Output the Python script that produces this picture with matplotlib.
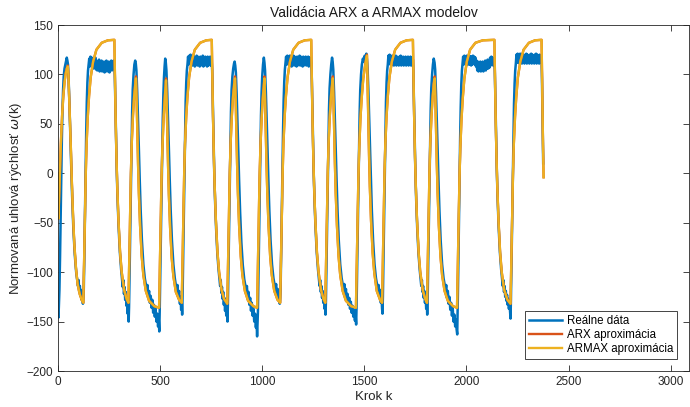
import matplotlib
matplotlib.use("Agg")
import matplotlib.pyplot as plt

k_real = [
    0, 2, 4, 7, 10, 13, 16, 19, 22, 25, 28, 32, 36, 40, 43, 46,
    49, 52, 56, 60, 64, 69, 75, 82, 89, 94, 98, 101, 104, 107, 110, 113, 116, 119, 122, 124,
    126, 129, 132, 135, 138, 141, 144, 147, 150,
    153, 156, 159, 162, 165, 168, 171, 174, 177, 180, 183, 186, 189, 192, 195, 198, 201, 204, 207, 210,
    213, 216, 219, 222, 225, 228, 231, 234, 237, 240, 243, 246, 249, 252, 255, 258, 261, 264, 267, 270, 273, 276,
    278, 281, 284, 288, 292, 297, 303, 309, 314, 317, 320, 323, 326, 329, 332, 335, 338, 341, 344, 346,
    348, 351, 354, 357, 360, 363, 366, 370, 374, 378, 381,
    384, 388, 392, 396, 400, 405, 411, 418, 425, 430, 434, 438, 442, 446, 450, 454, 458, 462, 466, 470,
    474, 478, 482, 486, 490, 493, 496,
    498, 501, 504, 507, 510, 513, 516, 519, 522, 525, 528,
    531, 535, 539, 543, 547, 552, 558, 565, 572, 577, 581, 585, 589, 593, 597, 600, 603, 606, 608,
    610, 613, 616, 619, 622, 625, 628, 631, 634,
    637, 640, 643, 646, 649, 652, 655, 658, 661, 664, 667, 670, 673, 676, 679, 682, 685, 688, 691, 694,
    697, 700, 703, 706, 709, 712, 715, 718, 721, 724, 727, 730, 733, 736, 739, 742, 745, 748, 751, 753,
    755, 758, 761, 765, 769, 774, 780, 786, 791, 794, 797, 800, 803, 806, 809, 812, 815, 818, 821, 824, 827, 830,
    832, 835, 838, 841, 844, 847, 850, 854, 858, 862, 865, 868,
    871, 875, 879, 883, 887, 892, 898, 905, 912, 917, 921, 925, 929, 933, 937, 941, 945, 949, 953, 957,
    961, 965, 969, 972, 975, 977,
    979, 982, 985, 988, 991, 994, 997, 1000, 1004, 1008, 1011,
    1014, 1018, 1022, 1026, 1030, 1035, 1041, 1048, 1055, 1060, 1064, 1068, 1072, 1076, 1080, 1083, 1086, 1088,
    1090, 1093, 1096, 1099, 1102, 1105, 1108, 1111, 1114,
    1117, 1120, 1123, 1126, 1129, 1132, 1135, 1138, 1141, 1144, 1147, 1150, 1153, 1156, 1159, 1162, 1165, 1168,
    1171, 1174, 1177, 1180, 1183, 1186, 1189, 1192, 1195, 1198, 1201, 1204, 1207, 1210, 1213, 1216, 1219, 1222,
    1225, 1228, 1231, 1234, 1237, 1240,
    1242, 1245, 1248, 1252, 1256, 1261, 1267, 1273, 1278, 1281, 1284, 1287, 1290, 1293, 1296, 1299, 1302, 1305,
    1308, 1310,
    1312, 1315, 1318, 1321, 1324, 1327, 1330, 1334, 1338, 1342, 1345,
    1348, 1352, 1356, 1360, 1364, 1369, 1375, 1382, 1389, 1394, 1398, 1402, 1406, 1410, 1414, 1418, 1422, 1426,
    1430, 1434, 1438, 1442, 1446, 1450, 1454, 1457, 1460,
    1462, 1465, 1468, 1471, 1474, 1477, 1480, 1484, 1488, 1493, 1498, 1502, 1506, 1510, 1513,
    1516, 1520, 1524, 1528, 1532, 1537, 1543, 1550, 1557, 1562, 1566, 1570, 1574, 1578, 1581, 1584, 1587, 1589,
    1591, 1594, 1597, 1600, 1603, 1606, 1609, 1612, 1615,
    1618, 1621, 1624, 1627, 1630, 1633, 1636, 1639, 1642, 1645, 1648, 1651, 1654, 1657, 1660, 1663, 1666, 1669,
    1672, 1675, 1678, 1681, 1684, 1687, 1690, 1693, 1696, 1699, 1702, 1705, 1708, 1711, 1714, 1717, 1720, 1723,
    1726, 1729, 1732, 1735, 1738,
    1740, 1743, 1746, 1750, 1754, 1759, 1765, 1771, 1776, 1779, 1782, 1785, 1788, 1791, 1794, 1797, 1800, 1803,
    1806, 1808,
    1810, 1813, 1816, 1819, 1822, 1825, 1828, 1832, 1836, 1840, 1844,
    1847, 1851, 1855, 1859, 1863, 1868, 1874, 1881, 1888, 1893, 1897, 1901, 1905, 1909, 1913, 1917, 1921, 1925,
    1929, 1933, 1937, 1941, 1945, 1949, 1952, 1955,
    1957, 1960, 1963, 1966, 1969, 1972, 1975, 1978, 1981,
    1984, 1987, 1990, 1993, 1996, 1999, 2002, 2005, 2008, 2011, 2014, 2017, 2020, 2023, 2026, 2029, 2032, 2035,
    2038, 2041, 2044, 2047, 2050, 2053, 2056, 2059, 2062, 2065, 2068, 2071, 2074, 2077, 2080, 2083, 2086, 2089,
    2092, 2095, 2098, 2101, 2104, 2107, 2110, 2113, 2116, 2119, 2122, 2125, 2128, 2131, 2134, 2137,
    2139, 2142, 2145, 2149, 2153, 2158, 2164, 2170, 2175, 2178, 2181, 2184, 2187, 2190, 2193, 2196, 2199, 2202,
    2205, 2208, 2211, 2214, 2216,
    2218, 2221, 2224, 2227, 2230, 2233, 2236, 2239, 2242,
    2245, 2248, 2251, 2254, 2257, 2260, 2263, 2266, 2269, 2272, 2275, 2278, 2281, 2284, 2287, 2290, 2293, 2296,
    2299, 2302, 2305, 2308, 2311, 2314, 2317, 2320, 2323, 2326, 2329, 2332, 2335, 2338, 2341, 2344, 2347, 2350,
    2353, 2356, 2359, 2362, 2365, 2368,
    2370, 2373, 2376,
]
y_real = [
    -138, -146, -136, -118, -85, -45, -5, 35, 65, 85, 98, 106, 110, 114, 117, 114,
    110, 95, 70, 40, 12, -22, -55, -82, -100, -108, -114, -108, -120, -114, -124, -118, -128, -122, -132, -127,
    -120, -85, -40, 0, 40, 72, 92, 104, 110,
    116, 108, 118, 109, 117, 107, 116, 106, 115, 108, 117, 105, 114, 104, 113, 106, 115, 103, 112, 105,
    114, 103, 112, 104, 113, 102, 111, 104, 114, 103, 112, 104, 113, 102, 111, 105, 114, 104, 113, 106, 114, 108,
    100, 70, 35, 0, -28, -55, -80, -97, -108, -115, -108, -122, -115, -128, -120, -134, -127, -142, -134, -150,
    -135, -95, -55, -12, 30, 62, 85, 100, 110, 114, 111,
    104, 82, 55, 25, -5, -38, -68, -92, -106, -112, -120, -113, -126, -119, -131, -124, -136, -128, -141, -133,
    -145, -137, -150, -142, -155, -147, -160,
    -140, -100, -60, -18, 20, 55, 80, 97, 108, 116, 112,
    104, 82, 55, 25, -5, -38, -68, -92, -106, -113, -120, -113, -126, -119, -132, -125, -138, -131, -143,
    -125, -85, -40, 0, 40, 72, 92, 104, 110,
    118, 110, 119, 111, 120, 110, 118, 109, 119, 110, 118, 108, 117, 110, 119, 109, 118, 110, 117, 108,
    118, 109, 117, 110, 119, 108, 117, 109, 118, 110, 117, 108, 118, 109, 117, 110, 118, 109, 116, 112,
    104, 72, 38, 2, -27, -55, -80, -97, -108, -114, -108, -121, -115, -127, -120, -133, -126, -139, -131, -144, -137, -150,
    -132, -92, -50, -8, 32, 62, 84, 98, 106, 111, 113, 109,
    102, 80, 52, 22, -8, -40, -70, -93, -107, -113, -121, -114, -127, -120, -133, -126, -139, -131, -144, -137,
    -150, -142, -156, -148, -165, -152,
    -140, -100, -58, -15, 25, 58, 82, 98, 110, 117, 112,
    104, 82, 55, 25, -5, -38, -68, -92, -106, -112, -119, -112, -124, -117, -128, -121, -132, -126,
    -118, -80, -38, 2, 42, 74, 93, 105, 111,
    118, 110, 119, 111, 118, 109, 119, 110, 118, 108, 117, 110, 119, 109, 118, 110, 117, 108,
    118, 109, 117, 110, 119, 109, 118, 110, 117, 108, 118, 109, 117, 110, 118, 109, 117, 110,
    118, 108, 117, 110, 116, 112,
    104, 72, 38, 2, -27, -55, -80, -97, -108, -114, -108, -120, -114, -126, -119, -131, -124, -137,
    -130, -143,
    -130, -90, -48, -6, 34, 64, 86, 100, 110, 117, 113,
    105, 82, 55, 25, -5, -38, -68, -92, -106, -112, -119, -112, -124, -117, -129, -122, -133, -126,
    -137, -130, -141, -134, -145, -138, -149, -142, -153,
    -136, -96, -54, -12, 28, 60, 84, 100, 110, 116, 113, 119, 114, 121, 115,
    106, 84, 56, 26, -4, -38, -68, -92, -106, -112, -119, -113, -125, -118, -131, -124, -137, -142,
    -125, -85, -42, 0, 40, 72, 92, 104, 110,
    119, 111, 120, 110, 118, 109, 119, 111, 118, 109, 117, 110, 119, 109, 118, 110, 117, 109,
    118, 110, 119, 109, 117, 110, 118, 109, 117, 110, 118, 109, 117, 110, 118, 109, 117, 110,
    118, 109, 117, 111, 115,
    104, 72, 38, 2, -27, -55, -80, -97, -108, -114, -108, -120, -114, -126, -119, -131, -124, -137,
    -130, -143,
    -130, -90, -48, -6, 34, 64, 86, 100, 110, 116, 112,
    105, 82, 55, 25, -5, -38, -68, -92, -106, -112, -120, -113, -126, -119, -132, -125, -138, -131,
    -144, -137, -150, -143, -155, -148, -158, -163,
    -140, -100, -55, -10, 32, 66, 90, 104, 111,
    118, 110, 119, 111, 118, 109, 119, 111, 118, 110, 119, 110, 118, 109, 118, 110, 119, 111,
    118, 110, 117, 108, 114, 104, 113, 103, 112, 104, 113, 103, 112, 104, 113, 103, 112, 105,
    114, 104, 113, 106, 115, 106, 114, 107, 117, 109, 118, 110, 117, 109, 116, 112,
    104, 72, 38, 2, -27, -55, -80, -97, -108, -114, -108, -120, -114, -125, -119, -129, -123, -133,
    -127, -137, -131, -141, -147,
    -128, -88, -44, -2, 38, 70, 91, 104, 111,
    120, 112, 121, 112, 120, 111, 121, 112, 120, 111, 121, 112, 119, 111, 120, 112, 121, 111,
    120, 112, 119, 111, 120, 112, 121, 111, 120, 112, 119, 111, 120, 112, 121, 111, 120, 112,
    119, 111, 120, 112, 119, 114,
    95, 50, 10,
]

# Model outputs (ARX and ARMAX nearly overlap)
k_model = [
    0, 2, 6, 10, 14, 20, 26, 32, 38, 44, 48,
    51, 55, 59, 63, 68, 74, 80, 88, 96, 106, 116, 124,
    128, 132, 136, 140, 146, 152, 160, 172, 188, 214, 244, 276,
    279, 282, 286, 290, 296, 304, 312, 324, 336, 345,
    349, 353, 357, 361, 367, 373, 379, 382,
    385, 388, 392, 396, 402, 410, 418, 430, 446, 472, 495,
    499, 503, 507, 511, 517, 523, 529,
    532, 535, 539, 543, 549, 557, 565, 577, 593, 606,
    610, 614, 618, 622, 628, 634, 642, 654, 670, 696, 726, 753,
    756, 759, 763, 767, 773, 781, 789, 801, 813, 829,
    833, 837, 841, 845, 851, 857, 863, 867,
    870, 873, 877, 881, 887, 895, 903, 915, 931, 957, 975,
    979, 983, 987, 991, 997, 1003, 1008, 1011,
    1014, 1017, 1021, 1025, 1031, 1039, 1047, 1059, 1075, 1088,
    1092, 1096, 1100, 1104, 1110, 1116, 1124, 1136, 1152, 1178, 1208, 1240,
    1243, 1246, 1250, 1254, 1260, 1268, 1276, 1288, 1300, 1309,
    1313, 1317, 1321, 1325, 1331, 1337, 1343, 1346,
    1349, 1352, 1356, 1360, 1366, 1374, 1382, 1394, 1410, 1436, 1459,
    1463, 1467, 1471, 1475, 1481, 1487, 1495, 1507, 1513,
    1516, 1519, 1523, 1527, 1533, 1541, 1549, 1561, 1577, 1587,
    1591, 1595, 1599, 1603, 1609, 1615, 1623, 1635, 1651, 1677, 1707, 1738,
    1741, 1744, 1748, 1752, 1758, 1766, 1774, 1786, 1798, 1807,
    1811, 1815, 1819, 1823, 1829, 1835, 1841, 1845,
    1848, 1851, 1855, 1859, 1865, 1873, 1881, 1893, 1909, 1935, 1954,
    1958, 1962, 1966, 1970, 1976, 1982, 1990, 2002, 2018, 2044, 2080, 2137,
    2140, 2143, 2147, 2151, 2157, 2165, 2173, 2185, 2201, 2216,
    2220, 2224, 2228, 2232, 2238, 2244, 2252, 2264, 2280, 2306, 2336, 2368,
    2371, 2375, 2378,
]
y_armax = [
    0, -46, -20, 5, 30, 58, 78, 92, 101, 106, 108,
    100, 75, 50, 25, -10, -45, -72, -96, -112, -122, -128, -131,
    -86, -40, 0, 30, 58, 78, 97, 113, 125, 132, 134.5, 135,
    93, 58, 19, -12, -47, -80, -100, -118, -127, -131,
    -86, -40, 0, 30, 58, 78, 91, 96,
    75, 45, 10, -20, -53, -84, -103, -119, -129, -134.5, -136,
    -91, -45, -5, 25, 55, 76, 94,
    73, 43, 8, -22, -55, -86, -104, -120, -128, -131,
    -86, -40, 0, 30, 58, 78, 97, 113, 125, 132, 134.5, 135,
    93, 58, 19, -12, -47, -80, -100, -118, -127, -132,
    -87, -41, -1, 29, 57, 77, 90, 96,
    75, 45, 10, -20, -53, -84, -103, -119, -129, -134.5, -136,
    -91, -45, -5, 25, 55, 76, 89, 96,
    75, 45, 10, -20, -53, -84, -103, -119, -128, -131,
    -86, -40, 0, 30, 58, 78, 97, 113, 125, 132, 134.5, 135,
    93, 58, 19, -12, -47, -80, -100, -118, -127, -131,
    -86, -40, 0, 30, 58, 78, 91, 96,
    75, 45, 10, -20, -53, -84, -103, -119, -129, -134.5, -136,
    -91, -45, -5, 25, 55, 76, 96, 113, 119,
    90, 56, 18, -13, -48, -81, -101, -119, -128, -131,
    -86, -40, 0, 30, 58, 78, 97, 113, 125, 132, 134.5, 135,
    93, 58, 19, -12, -47, -80, -100, -118, -127, -131,
    -86, -40, 0, 30, 58, 78, 91, 96,
    75, 45, 10, -20, -53, -84, -103, -119, -129, -134.5, -136,
    -91, -45, -5, 25, 55, 76, 96, 113, 125, 132, 134.5, 135,
    93, 58, 19, -12, -47, -80, -100, -118, -128, -132,
    -87, -41, -1, 29, 57, 77, 97, 113, 125, 132, 134.5, 135,
    90, 30, -4,
]
y_arx = [
    0, -46, -20, 5, 30, 58, 78, 92, 102, 107, 109,
    100, 75, 50, 25, -10, -45, -72, -96, -112, -122, -128, -131,
    -86, -40, 0, 30, 58, 78, 97, 113, 125, 132, 134.5, 135,
    93, 58, 19, -12, -47, -80, -100, -118, -127, -131,
    -86, -40, 0, 30, 58, 79, 93, 98,
    75, 45, 10, -20, -53, -84, -103, -119, -129, -134.5, -136,
    -91, -45, -5, 25, 55, 77, 96,
    73, 43, 8, -22, -55, -86, -104, -120, -128, -131,
    -86, -40, 0, 30, 58, 78, 97, 113, 125, 132, 134.5, 135,
    93, 58, 19, -12, -47, -80, -100, -118, -127, -132,
    -87, -41, -1, 29, 57, 78, 92, 98,
    75, 45, 10, -20, -53, -84, -103, -119, -129, -134.5, -136,
    -91, -45, -5, 25, 55, 77, 91, 98,
    75, 45, 10, -20, -53, -84, -103, -119, -128, -131,
    -86, -40, 0, 30, 58, 78, 97, 113, 125, 132, 134.5, 135,
    93, 58, 19, -12, -47, -80, -100, -118, -127, -131,
    -86, -40, 0, 30, 58, 79, 93, 98,
    75, 45, 10, -20, -53, -84, -103, -119, -129, -134.5, -136,
    -91, -45, -5, 25, 55, 76, 96, 114, 120,
    90, 56, 18, -13, -48, -81, -101, -119, -128, -131,
    -86, -40, 0, 30, 58, 78, 97, 113, 125, 132, 134.5, 135,
    93, 58, 19, -12, -47, -80, -100, -118, -127, -131,
    -86, -40, 0, 30, 58, 79, 93, 98,
    75, 45, 10, -20, -53, -84, -103, -119, -129, -134.5, -136,
    -91, -45, -5, 25, 55, 76, 96, 113, 125, 132, 134.5, 135,
    93, 58, 19, -12, -47, -80, -100, -118, -128, -132,
    -87, -41, -1, 29, 57, 77, 97, 113, 125, 132, 134.5, 135,
    90, 30, -4,
]

assert len(k_real) == len(y_real), (len(k_real), len(y_real))
assert len(k_model) == len(y_armax) == len(y_arx), (len(k_model), len(y_armax), len(y_arx))

plt.rcParams['font.family'] = ['Liberation Sans', 'DejaVu Sans']

fig = plt.figure(figsize=(6.9, 4.07), dpi=100)
ax = fig.add_axes([58 / 690, 1 - 371 / 407, 631 / 690, 346 / 407])

ax.plot(k_real, y_real, color='#0072BD', lw=1.8, label='Reálne dáta')
ax.plot(k_model, y_arx, color='#D95319', lw=1.7, label='ARX aproximácia')
ax.plot(k_model, y_armax, color='#EDB120', lw=1.7, label='ARMAX aproximácia')

ax.set_xlim(0, 3090)
ax.set_ylim(-200, 150)
ax.set_xticks(range(0, 3001, 500))
ax.set_yticks(range(-200, 151, 50))
ax.tick_params(direction='in', top=True, right=True, length=4, width=0.6,
               labelsize=8.5, colors='#262626')
for s in ax.spines.values():
    s.set_color('#262626')
    s.set_linewidth(0.6)

ax.set_title('Validácia ARX a ARMAX modelov', fontsize=10, color='#1a1a1a', pad=6)
ax.set_xlabel('Krok k', fontsize=9.5, color='#262626', labelpad=2)
ax.set_ylabel('Normovaná uhlová rýchlosť $\\omega$(k)', fontsize=9.5, color='#262626', labelpad=2)

leg = ax.legend(loc='lower right', fontsize=8.3, handlelength=2.9, borderaxespad=1.0,
                fancybox=False, framealpha=1, edgecolor='#262626', borderpad=0.35,
                labelspacing=0.2, handletextpad=0.4)
leg.get_frame().set_linewidth(0.6)

fig.savefig('out.png', dpi=100)
